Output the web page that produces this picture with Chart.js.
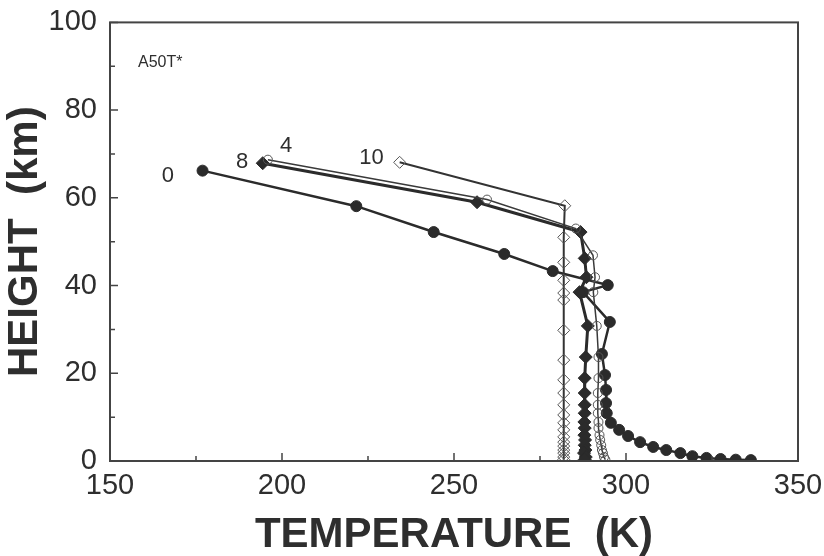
<!DOCTYPE html>
<html>
<head>
<meta charset="utf-8">
<script src="https://cdn.jsdelivr.net/npm/chart.js@4.4.0/dist/chart.umd.min.js"></script>
<style>
  html, body { margin: 0; padding: 0; background: #fff; }
</style>
</head>
<body>
<canvas id="chart" width="824" height="556"></canvas>
<script>
// run 0 (filled circles)
const temp0 = [176.9, 221.6, 244.1, 264.6, 278.7, 294.7, 287.5, 295.3, 293.0, 293.9, 294.2, 294.2, 294.4, 295.6, 298.0, 300.6, 304.1, 307.9, 311.7, 315.8, 319.3, 323.4, 327.5, 331.9, 336.3];
const height0 = [66.2, 58.1, 52.2, 47.2, 43.3, 40.1, 38.5, 31.7, 24.4, 19.6, 16.2, 13.2, 10.9, 8.7, 7.1, 5.7, 4.3, 3.2, 2.5, 1.8, 1.1, 0.7, 0.45, 0.3, 0.2];

// run 4 (open circles)
const temp4 = [195.9, 259.6, 285.4, 290.4, 291.0, 290.5, 291.5, 292.0, 292.0, 291.8, 291.8, 291.8, 292.0, 292.0, 292.3, 292.5, 292.8, 293.0, 293.3, 293.6, 294.0];
const height4 = [68.7, 59.6, 53.0, 46.9, 41.9, 38.5, 30.8, 23.7, 18.9, 15.5, 12.8, 10.9, 8.9, 7.5, 5.9, 4.8, 3.6, 2.5, 1.8, 0.9, 0.3];

// run 8 (filled diamonds)
const temp8 = [194.4, 256.7, 286.8, 288.0, 288.5, 286.5, 288.9, 288.3, 288.0, 288.0, 288.0, 288.0, 287.9, 288.0, 287.9, 288.1, 288.0, 288.2, 287.8, 288.3, 288.0];
const height8 = [67.9, 59.0, 52.2, 46.2, 41.9, 38.5, 30.8, 23.7, 18.9, 15.5, 12.8, 10.9, 8.9, 7.5, 5.9, 4.8, 3.6, 2.5, 1.8, 0.9, 0.3];

// run 10 (open diamonds)
const temp10 = [234.2, 282.2, 281.9, 281.9, 281.9, 281.9, 281.9, 281.9, 281.9, 281.9, 281.9, 281.9, 281.9, 281.9, 281.9, 281.9, 281.9, 281.9, 281.9, 281.9, 281.9, 281.9];
const height10 = [68.1, 58.2, 51.0, 45.3, 41.2, 38.3, 36.7, 29.8, 23.0, 18.5, 15.5, 12.8, 10.5, 8.7, 7.1, 5.5, 4.3, 3.4, 2.5, 1.8, 0.9, 0.3];

const xTicks = [150, 200, 250, 300, 350];
const xMinor = [175, 225, 275, 325];
const yTicks = [0, 20, 40, 60, 80, 100];
const yMinor = [10, 30, 50, 70, 90];

// curve labels, placed in data coordinates
const curveLabels = ['0', '8', '4', '10'];
const labelTemp = [166.8, 188.4, 201.2, 226.0];
const labelHeight = [65.1, 68.2, 71.8, 69.0];

const pts = (xs, ys) => xs.map((x, i) => ({ x: x, y: ys[i] }));
const ink = '#2e2e2e';
const hollow = 'rgba(255,255,255,0)';

Chart.defaults.font.family = "'Liberation Sans', Arial, sans-serif";
Chart.defaults.color = ink;

const framePlugin = {
  id: 'frame',
  afterDraw(chart) {
    const { ctx, chartArea: a, scales: { x, y } } = chart;
    ctx.save();
    ctx.strokeStyle = '#444';
    ctx.lineWidth = 1.5;
    ctx.beginPath();
    xTicks.forEach(v => { const px = x.getPixelForValue(v); ctx.moveTo(px, a.bottom); ctx.lineTo(px, a.bottom - 8); });
    xMinor.forEach(v => { const px = x.getPixelForValue(v); ctx.moveTo(px, a.bottom); ctx.lineTo(px, a.bottom - 5); });
    yTicks.forEach(v => { const py = y.getPixelForValue(v); ctx.moveTo(a.left, py); ctx.lineTo(a.left + 8, py); });
    yMinor.forEach(v => { const py = y.getPixelForValue(v); ctx.moveTo(a.left, py); ctx.lineTo(a.left + 5, py); });
    ctx.stroke();
    ctx.lineWidth = 2;
    ctx.strokeRect(a.left, a.top, a.right - a.left, a.bottom - a.top);

    ctx.fillStyle = ink;
    ctx.textAlign = 'center';
    ctx.textBaseline = 'middle';
    ctx.font = "22px 'Liberation Sans', Arial, sans-serif";
    curveLabels.forEach((t, i) => {
      ctx.fillText(t, x.getPixelForValue(labelTemp[i]), y.getPixelForValue(labelHeight[i]));
    });
    ctx.font = "16px 'Liberation Sans', Arial, sans-serif";
    ctx.textAlign = 'left';
    ctx.textBaseline = 'alphabetic';
    ctx.fillText('A50T*', a.left + 28, a.top + 45);
    ctx.restore();
  }
};

new Chart(document.getElementById('chart'), {
  type: 'scatter',
  data: {
    datasets: [
      {
        label: '10',
        data: pts(temp10, height10),
        showLine: true,
        borderColor: '#333333',
        borderWidth: 2,
        pointStyle: 'rectRot',
        pointRadius: 6,
        pointBackgroundColor: hollow,
        pointBorderColor: '#555555',
        pointBorderWidth: 1,
      },
      {
        label: '4',
        data: pts(temp4, height4),
        showLine: true,
        borderColor: '#3a3a3a',
        borderWidth: 1.5,
        pointStyle: 'circle',
        pointRadius: 4.5,
        pointBackgroundColor: hollow,
        pointBorderColor: '#555555',
        pointBorderWidth: 1,
      },
      {
        label: '8',
        data: pts(temp8, height8),
        showLine: true,
        borderColor: '#2b2b2b',
        borderWidth: 3,
        pointStyle: 'rectRot',
        pointRadius: 6.5,
        pointBackgroundColor: '#2b2b2b',
        pointBorderColor: '#2b2b2b',
        pointBorderWidth: 1,
      },
      {
        label: '0',
        data: pts(temp0, height0),
        showLine: true,
        borderColor: '#2b2b2b',
        borderWidth: 2.5,
        pointStyle: 'circle',
        pointRadius: 5.5,
        pointBackgroundColor: '#2b2b2b',
        pointBorderColor: '#2b2b2b',
        pointBorderWidth: 1,
      },
    ],
  },
  options: {
    responsive: false,
    animation: false,
    layout: { padding: { left: 0, right: 26, top: 22, bottom: 0 } },
    plugins: {
      legend: { display: false },
      tooltip: { enabled: false },
    },
    scales: {
      x: {
        type: 'linear',
        min: 150,
        max: 350,
        afterBuildTicks: s => { s.ticks = xTicks.map(v => ({ value: v })); },
        afterFit: s => { s.height = 95; },
        grid: { display: false },
        border: { display: false },
        ticks: {
          padding: 0,
          maxRotation: 0,
          color: ink,
          font: { size: 29 },
        },
        title: {
          display: true,
          text: 'TEMPERATURE  (K)',
          color: ink,
          padding: 0,
          font: { size: 42, weight: 'bold', lineHeight: 1 },
        },
      },
      y: {
        type: 'linear',
        min: 0,
        max: 100,
        afterBuildTicks: s => { s.ticks = yTicks.map(v => ({ value: v })); },
        afterFit: s => { s.width = 110; },
        grid: { display: false },
        border: { display: false },
        ticks: {
          padding: 5,
          color: ink,
          font: { size: 29 },
        },
        title: {
          display: true,
          text: 'HEIGHT  (km)',
          color: ink,
          padding: 4,
          font: { size: 42, weight: 'bold', lineHeight: 1 },
        },
      },
    },
  },
  plugins: [framePlugin],
});
</script>
</body>
</html>
